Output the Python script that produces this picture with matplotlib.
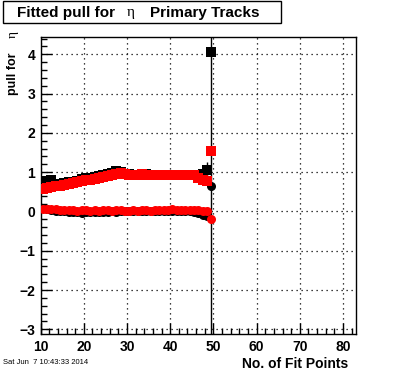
import numpy as np
import matplotlib
matplotlib.use("Agg")
import matplotlib.pyplot as plt
from matplotlib.patches import Rectangle
from matplotlib.ticker import MultipleLocator

plt.rcParams['font.family'] = ['Liberation Sans', 'DejaVu Sans']

x = np.arange(10.5, 50.0, 1.0)

black_sq = [0.68, 0.78, 0.80, 0.70, 0.70, 0.72, 0.74, 0.76, 0.78, 0.82,
            0.84, 0.86, 0.88, 0.90, 0.92, 0.95, 0.98, 1.02, 1.00, 0.96,
            0.95, 0.94, 0.94, 0.95, 0.95, 0.94, 0.94, 0.94, 0.93, 0.94,
            0.94, 0.93, 0.93, 0.94, 0.93, 0.93, 0.92, 0.95, 1.06, 4.07]
black_sq_err = [0.03] * 38 + [0.2, 12.0]

red_sq = [0.58, 0.60, 0.63, 0.65, 0.66, 0.68, 0.70, 0.72, 0.74, 0.77,
          0.79, 0.81, 0.83, 0.85, 0.88, 0.90, 0.93, 0.96, 0.97, 0.95,
          0.94, 0.93, 0.94, 0.95, 0.94, 0.93, 0.93, 0.93, 0.93, 0.93,
          0.93, 0.92, 0.93, 0.92, 0.92, 0.92, 0.85, 0.80, 0.78, 1.55]

black_ci = [0.08, 0.05, 0.03, 0.02, 0.01, 0.00, -0.01, -0.02, -0.02, -0.03,
            -0.02, -0.02, -0.01, -0.02, -0.01, -0.01, 0.00, -0.01, 0.00, 0.00,
            0.00, 0.01, 0.00, 0.00, 0.00, 0.01, 0.00, 0.00, 0.01, 0.00,
            0.00, 0.00, 0.00, 0.01, 0.00, -0.02, -0.05, -0.10, -0.12, 0.65]

red_ci = [0.05, 0.06, 0.05, 0.05, 0.04, 0.04, 0.03, 0.03, 0.02, 0.03,
          0.03, 0.02, 0.03, 0.02, 0.03, 0.03, 0.02, 0.03, 0.03, 0.02,
          0.02, 0.03, 0.02, 0.03, 0.03, 0.02, 0.03, 0.03, 0.04, 0.04,
          0.05, 0.04, 0.03, 0.04, 0.03, 0.03, 0.04, 0.02, 0.00, -0.18]

xticks = [10, 20, 30, 40, 50, 60, 70, 80]
yticks = [-3, -2, -1, 0, 1, 2, 3, 4]

W, H = 396, 372
fig = plt.figure(figsize=(W / 100, H / 100), dpi=100)
ax = fig.add_axes([40.6 / W, (H - 334) / H, (356 - 40.6) / W, (334 - 37) / H])

ms = 6.5
ax.errorbar(x, black_ci, fmt='o', color='black', ms=ms, mew=0, zorder=3)
ax.errorbar(x, black_sq, yerr=black_sq_err, fmt='s', color='black', ms=ms,
            mew=0, elinewidth=1, capsize=0, zorder=3)
ax.errorbar(x, red_ci, fmt='o', color='#ff0000', ms=ms, mew=0, zorder=4)
ax.errorbar(x, red_sq, fmt='s', color='#ff0000', ms=ms, mew=0, zorder=4)

ax.set_xlim(10, 83)
ax.set_ylim(-3.12, 4.44)
ax.set_xticks(xticks)
ax.set_yticks(yticks)
ax.xaxis.set_minor_locator(MultipleLocator(2))
ax.yaxis.set_minor_locator(MultipleLocator(0.2))
ax.tick_params(which='both', direction='in', top=False, right=False, width=1)
ax.tick_params(which='major', length=8, pad=4, labelsize=10)
ax.tick_params(which='minor', length=4)
for lab in ax.get_xticklabels() + ax.get_yticklabels():
    lab.set_fontweight('bold')
ax.grid(True, which='major', color='black', linestyle=(0, (1, 3)), linewidth=0.9)
for s in ax.spines.values():
    s.set_linewidth(1)

# title box
fig.add_artist(Rectangle((3 / W, 1 - 23 / H), (281 - 3) / W, 22 / H,
                         transform=fig.transFigure, fill=False, lw=1, ec='black'))
ty = 1 - 12.5 / H
fig.text(17 / W, ty, 'Fitted pull for', fontsize=11, fontweight='bold', va='center', ha='left')
fig.text(131 / W, ty, 'η', fontsize=11, family='Liberation Serif', va='center', ha='center')
fig.text(150 / W, ty, 'Primary Tracks', fontsize=11, fontweight='bold', va='center', ha='left')

# y label
fig.text(13 / W, 1 - 95 / H, 'pull for', fontsize=9, fontweight='bold', rotation=90,
         va='bottom', ha='center')
fig.text(13 / W, 1 - 35 / H, 'η', fontsize=9.5, family='Liberation Serif', rotation=90,
         va='center', ha='center')

# x label
fig.text(348 / W, 1 - 364 / H, 'No. of Fit Points', fontsize=10, fontweight='bold',
         va='center', ha='right')

# date
fig.text(3 / W, 1 - 363 / H, 'Sat Jun  7 10:43:33 2014', fontsize=5.5, va='center', ha='left')

fig.savefig('out.png', dpi=100)
